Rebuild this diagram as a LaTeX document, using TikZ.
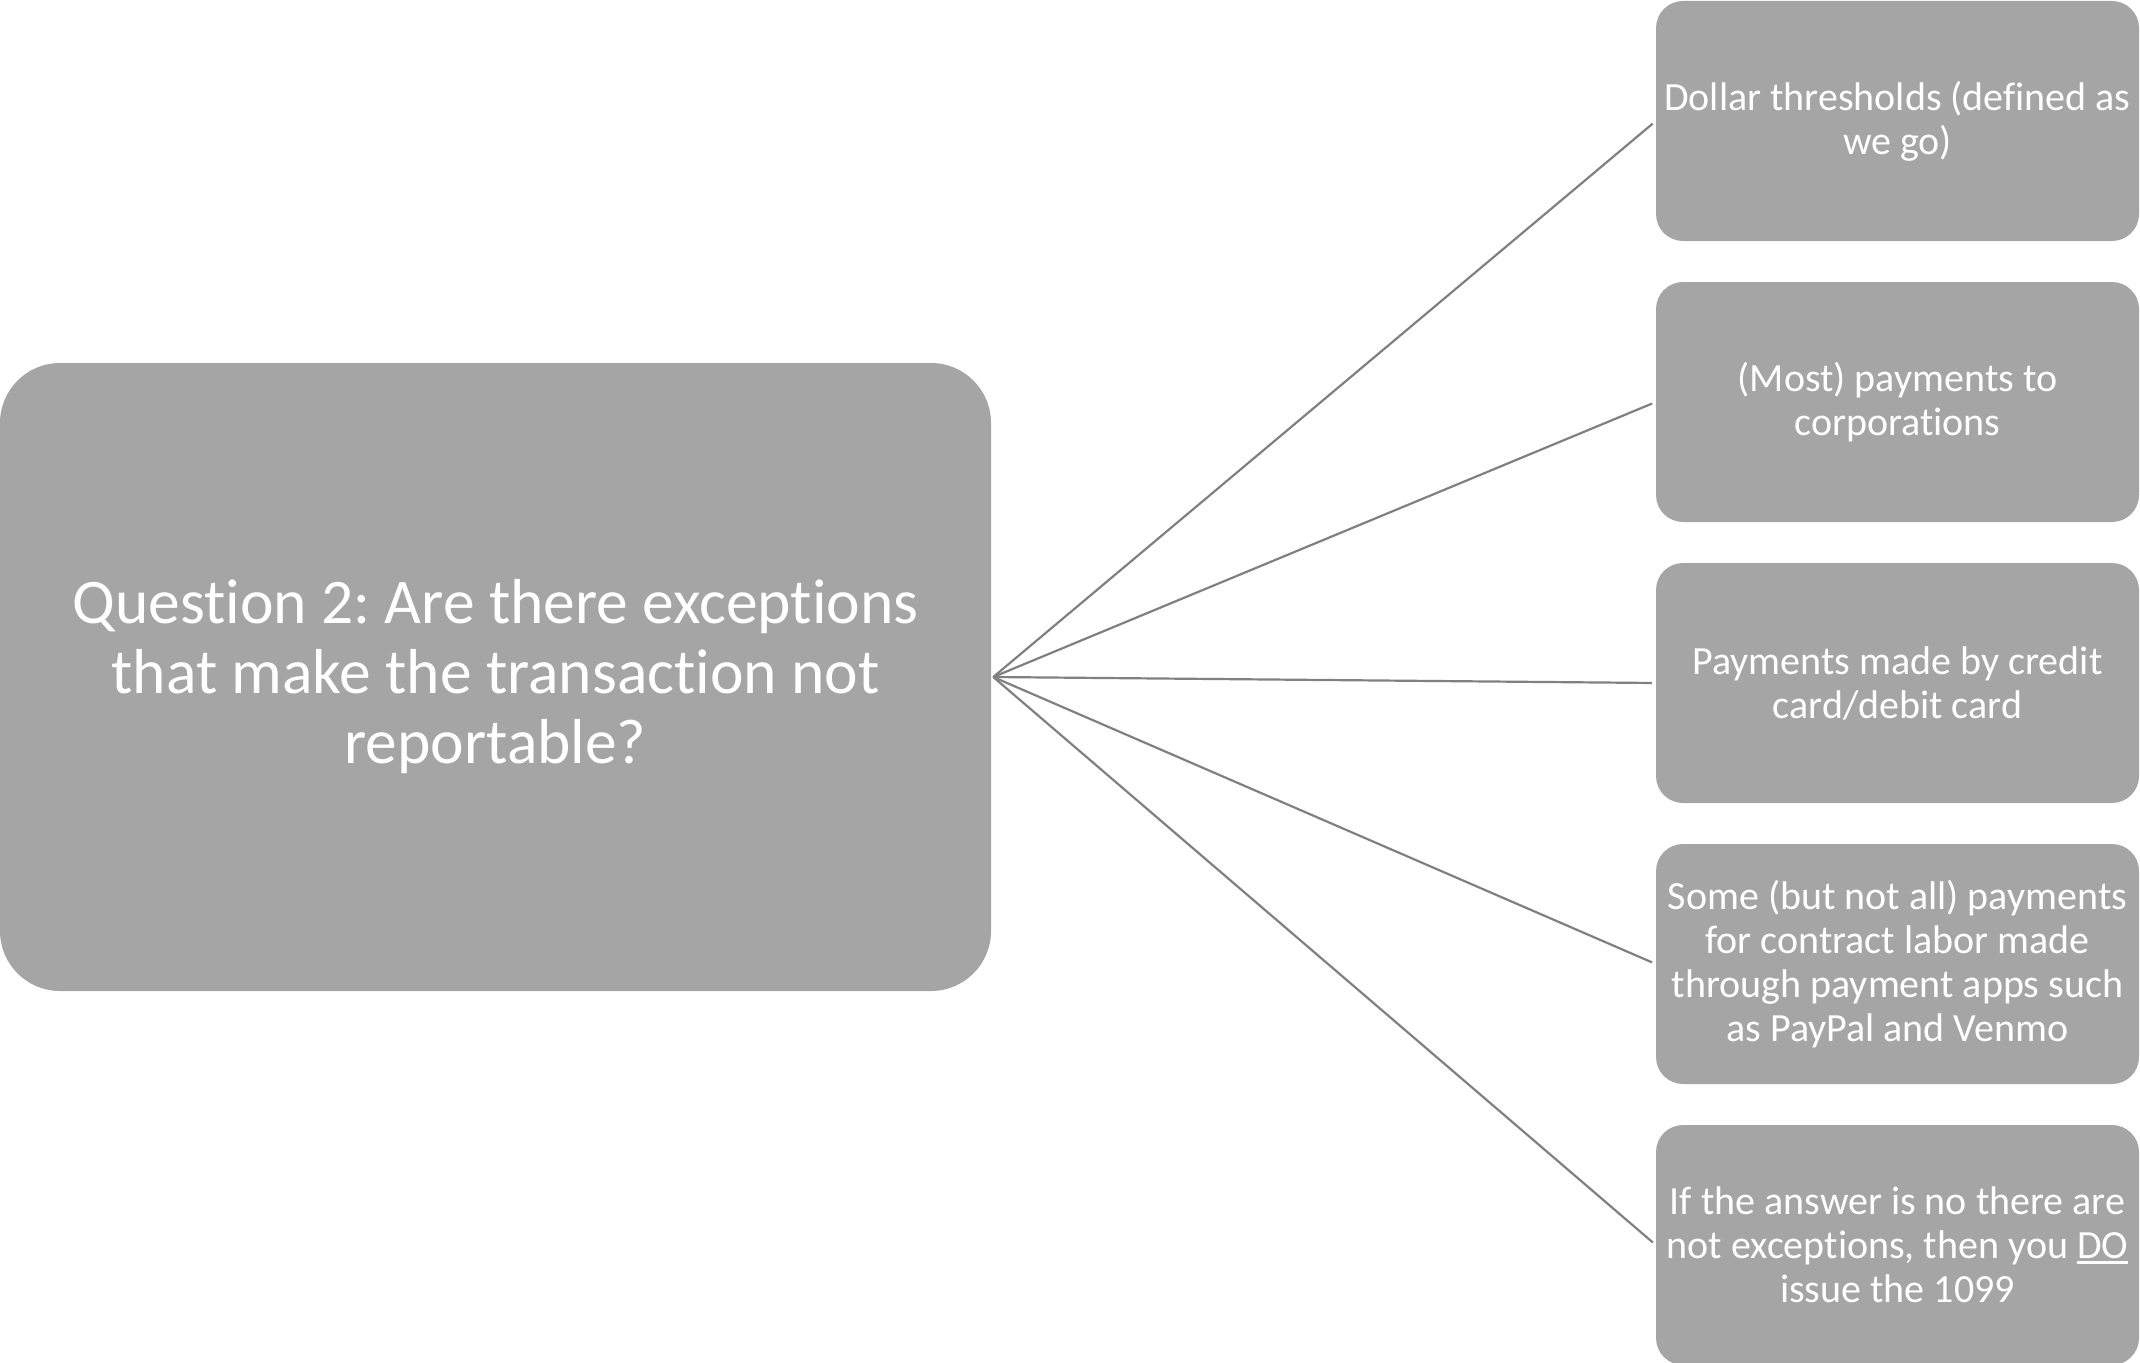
\documentclass[tikz,border=0pt]{standalone}
\usepackage{fontspec}
\setmainfont[Ligatures={NoCommon}]{Carlito}
\definecolor{boxgray}{HTML}{A5A5A5}
\definecolor{linegray}{HTML}{808080}
\newsavebox{\ulbox}
\newcommand{\myul}[1]{\sbox{\ulbox}{#1}\rlap{\rule[-5pt]{\wd\ulbox}{2.5pt}}\usebox{\ulbox}}
\tikzset{
  bigbox/.style={fill=boxgray, rounded corners=60pt, minimum width=991pt, minimum height=628pt, inner sep=0pt, text=white, align=center, font=\frenchspacing\fontsize{63.5pt}{70pt}\selectfont},
  smallbox/.style={fill=boxgray, rounded corners=27pt, minimum width=483pt, minimum height=240pt, inner sep=0pt, text=white, align=center, font=\frenchspacing\fontsize{40pt}{44pt}\selectfont},
  conn/.style={draw=linegray, line width=2.2pt, shorten >=4pt}
}
\begin{document}
\begin{tikzpicture}[x=1pt,y=1pt]
\useasboundingbox (0,0) rectangle (2140,-1362);
\node[bigbox] (q) at (495.5,-677) {Question 2: Are there exceptions\\that make the transaction not\\reportable?};
\node[smallbox] (a1) at (1897.5,-121) {Dollar thresholds (defined as\\we go)};
\node[smallbox] (a2) at (1897.5,-402) {(Most) payments to\\corporations};
\node[smallbox] (a3) at (1897.5,-683) {Payments made by credit\\card/debit card};
\node[smallbox] (a4) at (1897.5,-964) {Some (but not all) payments\\for contract labor made\\through payment apps such\\as PayPal and Venmo};
\node[smallbox] (a5) at (1897.5,-1245) {If the answer is no there are\\not exceptions, then you \myul{DO}\\issue the 1099};
\coordinate (o) at ([xshift=2pt]q.east);
\foreach \i in {1,...,5} {\draw[conn] (o) -- (a\i.west);}
\end{tikzpicture}
\end{document}
